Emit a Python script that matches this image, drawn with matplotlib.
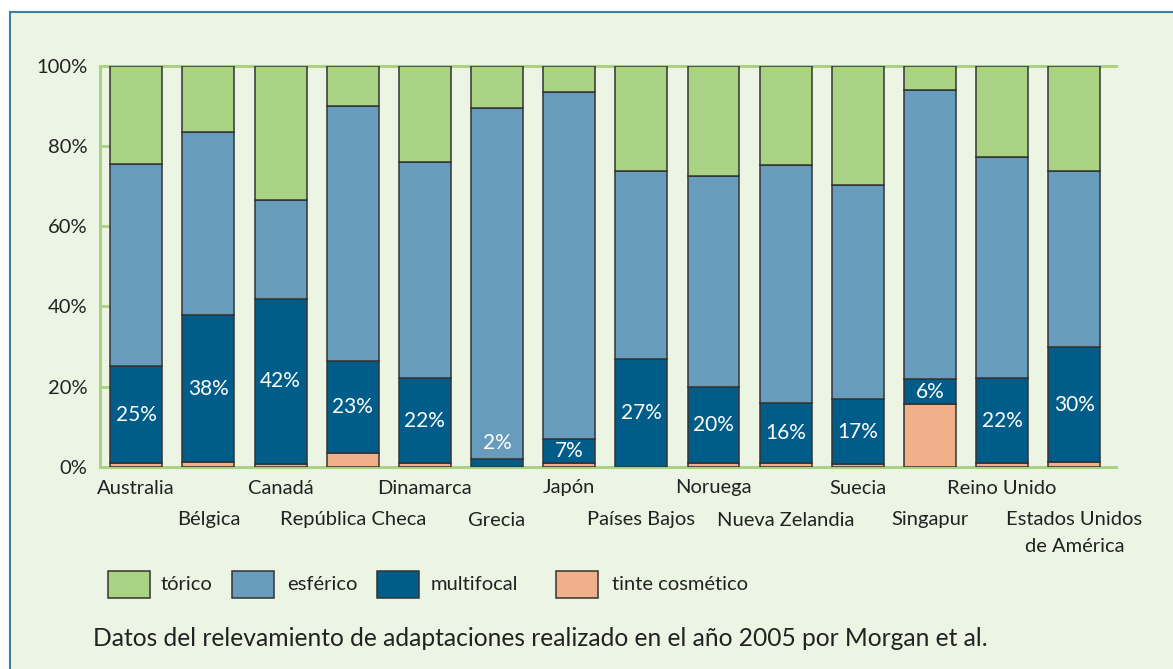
import matplotlib
matplotlib.use("Agg")
import matplotlib.pyplot as plt
from matplotlib.patches import Rectangle
import numpy as np

plt.rcParams['font.family'] = ['Lato', 'DejaVu Sans']

# Datos (porcentaje de adaptaciones por tipo de lente)
paises = ['Australia', 'Bélgica', 'Canadá', 'República Checa', 'Dinamarca', 'Grecia', 'Japón',
          'Países Bajos', 'Noruega', 'Nueva Zelandia', 'Suecia', 'Singapur', 'Reino Unido',
          'Estados Unidos\nde América']
tinte = [0.8, 1.1, 0.7, 3.4, 0.8, 0.0, 0.8, 0.0, 0.8, 1.0, 0.6, 15.7, 1.0, 1.1]
multifocal = [24.2, 36.7, 41.2, 23.0, 21.2, 2.0, 6.2, 26.9, 19.2, 15.0, 16.3, 6.1, 21.0, 28.8]
esferico = [50.6, 45.7, 24.7, 63.5, 54.1, 87.4, 86.4, 46.9, 52.5, 59.2, 53.4, 72.2, 55.2, 43.9]
torico = [24.4, 16.5, 33.4, 10.1, 23.9, 10.6, 6.6, 26.2, 27.5, 24.8, 29.7, 6.0, 22.8, 26.2]
etiquetas = ['25%', '38%', '42%', '23%', '22%', '2%', '7%', '27%', '20%', '16%', '17%', '6%', '22%', '30%']

series = [('tórico', torico, '#a9d282'), ('esférico', esferico, '#679cbd'),
          ('multifocal', multifocal, '#005d89'), ('tinte cosmético', tinte, '#f0b08a')]

TXT = '#222222'
W, H = 1173, 669
fig = plt.figure(figsize=(W / 100, H / 100), dpi=100, facecolor='white')

def fx(px):
    return px / W

def fy(py):
    return 1 - py / H

# panel de fondo con borde azul
fig.add_artist(Rectangle((fx(10), fy(700)), fx(1200), (700 - 12) / H,
                         transform=fig.transFigure, facecolor='#ecf5e4', edgecolor='#3b7fa3',
                         linewidth=1.5, zorder=0))

Y0, Y1 = 466.7, 65.7
ax = fig.add_axes([fx(100), fy(Y0), fx(1116 - 100), (Y0 - Y1) / H])
ax.set_facecolor('none')

def ay(py):
    # pixel vertical -> fracción del eje
    return (Y0 - py) / (Y0 - Y1)

x = np.arange(len(paises))
ancho = 0.72
base = np.zeros(len(paises))
pilas = {}
for nombre, vals, color in [series[3], series[2], series[1], series[0]]:
    vals = np.array(vals)
    ax.bar(x, vals, ancho, bottom=base, color=color, edgecolor='#333333', linewidth=1.1, zorder=3)
    pilas[nombre] = (base.copy(), vals)
    base = base + vals

# etiquetas de multifocal
b, v = pilas['multifocal']
for i, txt in enumerate(etiquetas):
    if v[i] < 4:
        yy = b[i] + v[i] + 4
    else:
        yy = b[i] + v[i] / 2
    ax.text(x[i], yy, txt, ha='center', va='center', color='white', fontsize=15, zorder=4)

ax.set_xlim(-0.502, 13.578)
ax.set_ylim(0, 100)
ax.set_yticks([0, 20, 40, 60, 80, 100])
ax.set_yticklabels(['0%', '20%', '40%', '60%', '80%', '100%'])
ax.tick_params(axis='y', direction='in', length=7.5, width=2, color='#a9d282',
               labelsize=14.5, labelcolor=TXT, pad=9)
ax.set_xticks([])
for s in ['left', 'top', 'bottom']:
    ax.spines[s].set_color('#a9d282')
    ax.spines[s].set_linewidth(2.2)
ax.spines['right'].set_visible(False)

# nombres de países en dos filas alternadas
tr = ax.get_xaxis_transform()
for i, p in enumerate(paises):
    if '\n' in p:
        ax.text(x[i], ay(511), p, transform=tr, ha='center', va='top', fontsize=14.5,
                color=TXT, linespacing=1.7)
    else:
        yy = ay(488) if i % 2 == 0 else ay(520)
        ax.text(x[i], yy, p, transform=tr, ha='center', va='center', fontsize=14.5, color=TXT)

# leyenda
leyenda = [(107.5, 161, 'tórico', '#a9d282'), (232, 287, 'esférico', '#679cbd'),
           (377, 431, 'multifocal', '#005d89'), (556, 612, 'tinte cosmético', '#f0b08a')]
for px0, tx0, nombre, color in leyenda:
    fig.add_artist(Rectangle((fx(px0), fy(598)), fx(42), 27 / H, transform=fig.transFigure,
                             facecolor=color, edgecolor='#333333', linewidth=1.1))
    fig.text(fx(tx0), fy(584), nombre, ha='left', va='center', fontsize=14.5, color=TXT)

fig.text(fx(93), fy(638), 'Datos del relevamiento de adaptaciones realizado en el año 2005 por Morgan et al.',
         ha='left', va='center', fontsize=17.7, color=TXT)

fig.savefig('out.png', dpi=100, facecolor='white')
